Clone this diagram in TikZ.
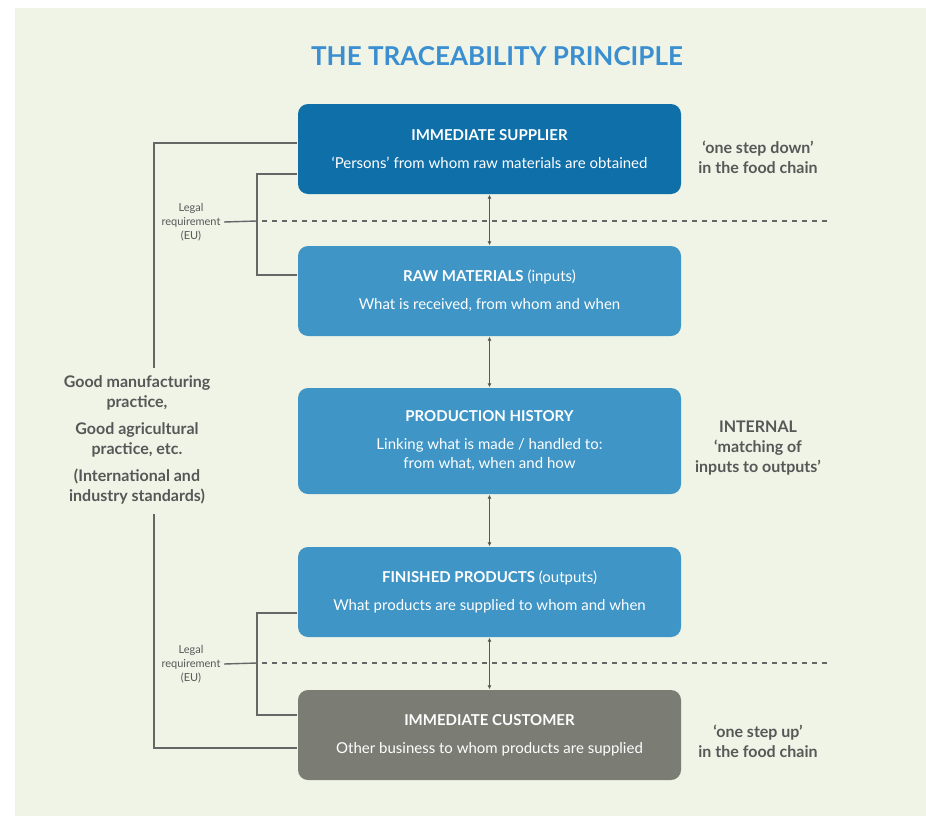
\documentclass[tikz,border=0pt]{standalone}
\usepackage{fontspec}
\setmainfont{Lato}
\usetikzlibrary{arrows.meta, calc, positioning}

\definecolor{paper}{HTML}{EFF4E7}
\definecolor{darkblue}{HTML}{0F6FA9}
\definecolor{midblue}{HTML}{3E95C6}
\definecolor{stonegrey}{HTML}{7B7D75}
\definecolor{titleblue}{HTML}{3B8FD0}
\definecolor{inkgrey}{HTML}{575757}
\definecolor{rulegrey}{HTML}{666666}

\begin{document}
\begin{tikzpicture}[x=1pt, y=-1pt, >={Latex[length=4pt,width=4pt]}, line width=1.4pt,
  stage/.style={rounded corners=10pt, minimum width=383pt, minimum height=90pt,
    text=white, align=center, inner sep=0pt, font=\fontsize{15}{19}\selectfont},
  sidenote/.style={text=inkgrey, align=center, font=\bfseries\fontsize{16}{20}\selectfont},
  legal/.style={text=inkgrey, align=center, inner sep=3pt, font=\fontsize{11}{14}\selectfont},
  rule/.style={draw=rulegrey},
  splitline/.style={draw=rulegrey, line width=1.2pt, dash pattern=on 5pt off 5pt}]
  \useasboundingbox (0,0) rectangle (926,816);
  \fill[paper] (15,8) rectangle (926,816);

  \node[text=titleblue, font=\bfseries\fontsize{26}{30}\selectfont] (title) at (497,56) {THE TRACEABILITY PRINCIPLE};

  % the five stages of the chain
  \node[stage, fill=darkblue] (sup) at (489.5,149)
    {\textbf{IMMEDIATE SUPPLIER}\\[9pt]‘Persons’ from whom raw materials are obtained};
  \node[stage, fill=midblue] (raw) at (489.5,291)
    {\textbf{RAW MATERIALS} (inputs)\\[9pt]What is received, from whom and when};
  \node[stage, fill=midblue, minimum height=106pt] (prod) at (489.5,441)
    {\textbf{PRODUCTION HISTORY}\\[9pt]Linking what is made / handled to:\\from what, when and how};
  \node[stage, fill=midblue] (fin) at (489.5,592)
    {\textbf{FINISHED PRODUCTS} (outputs)\\[9pt]What products are supplied to whom and when};
  \node[stage, fill=stonegrey] (cust) at (489.5,735)
    {\textbf{IMMEDIATE CUSTOMER}\\[9pt]Other business to whom products are supplied};

  \draw[<->, draw=inkgrey, line width=1.2pt] (sup) -- (raw);
  \draw[<->, draw=inkgrey, line width=1.2pt] (raw) -- (prod);
  \draw[<->, draw=inkgrey, line width=1.2pt] (prod) -- (fin);
  \draw[<->, draw=inkgrey, line width=1.2pt] (fin) -- (cust);

  % right hand notes
  \node[sidenote] (down) at (758,157) {‘one step down’\\in the food chain};
  \node[sidenote] (internal) at (758,448) {INTERNAL\\‘matching of\\inputs to outputs’};
  \node[sidenote] (up) at (758,741) {‘one step up’\\in the food chain};

  % dashed boundaries
  \coordinate (cutA1) at (262,221);
  \coordinate (cutA2) at (828,221);
  \coordinate (cutB1) at (262,663);
  \coordinate (cutB2) at (828,663);
  \draw[splitline] (cutA1) -- (cutA2);
  \draw[splitline] (cutB1) -- (cutB2);

  % legal requirement brackets
  \node[legal] (legalA) at (191,222) {Legal\\requirement\\(EU)};
  \node[legal] (legalB) at (191,664) {Legal\\requirement\\(EU)};
  \coordinate (brkA) at (257,221);
  \coordinate (brkB) at (257,663);
  \draw[rule] ($(sup.west)+(0,25)$) -| (brkA) |- ($(raw.west)+(0,-16)$);
  \draw[rule] (legalA.east) -- (brkA);
  \draw[rule] ($(fin.west)+(0,21)$) -| (brkB) |- ($(cust.west)+(0,-20)$);
  \draw[rule] (legalB.east) -- (brkB);

  % standards on the left
  \node[sidenote] (gmp) at (137,440)
    {Good manufacturing\\practice,\\[7pt]Good agricultural\\practice, etc.\\[7pt](International and\\industry standards)};
  \coordinate (outer) at (154,0);
  \draw[rule] ($(sup.west)+(0,-6)$) -| ([yshift=4pt]gmp.north -| outer);
  \draw[rule] ($(cust.west)+(0,13)$) -| ([yshift=-6pt]gmp.south -| outer);
\end{tikzpicture}
\end{document}
